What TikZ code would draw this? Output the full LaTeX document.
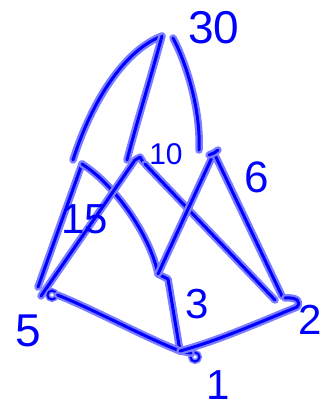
\documentclass[tikz,border=0pt]{standalone}
\usepackage{fontspec}
\setmainfont{Liberation Sans}
\definecolor{ink}{RGB}{0,0,255}
\definecolor{halo}{RGB}{125,125,255}
\begin{document}
\begin{tikzpicture}[x=1pt,y=-1pt,
  pen/.style={draw=ink, line width=3pt, line cap=round, line join=round,
    preaction={draw=halo, line width=7.5pt, line cap=round, line join=round}},
  vtx/.style={circle, draw=ink, line width=2pt, minimum size=9pt, inner sep=0pt,
    preaction={draw=halo, line width=5pt}},
  lbl/.style={text=ink, inner sep=0pt, font=\fontsize{42}{42}\selectfont}]
\useasboundingbox (0,0) rectangle (321,408);
% coordinates
\coordinate (t1) at (162,36);
\coordinate (t1b) at (73,160);
\coordinate (t2b) at (127,160);
\coordinate (t3) at (173,38);
\coordinate (t3b) at (199,150);
\coordinate (a) at (82,164);
\coordinate (a5) at (38,287);
\coordinate (b) at (158,274);
\coordinate (bh) at (168,279);
\coordinate (c) at (135,160);
\coordinate (ch) at (140,157);
\coordinate (c5) at (41,296);
\coordinate (d) at (145,164);
\coordinate (e) at (275,300);
\coordinate (f) at (214,153);
\coordinate (g) at (282,296);
\coordinate (j) at (180,351);
\coordinate (k) at (297,307);
\coordinate (kh) at (285,298);
% top strokes
\draw[pen] (t1) .. controls (125,50) and (92,100) .. (t1b);
\draw[pen] (t1) .. controls (150,80) and (136,125) .. (t2b);
\draw[pen] (t3) .. controls (186,62) and (201,110) .. (t3b);
% lower strokes
\draw[pen] (a) -- (a5);
\draw[pen] (a) .. controls (115,185) and (150,235) .. (b) -- (bh) -- (j);
\draw[pen] (c5) -- (c) -- (ch) -- ++(3,5);
\draw[pen] (d) -- (e);
\draw[pen] (f) -- (b);
\draw[pen] (f) -- (g);
\draw[pen] (209,155) -- (f) -- (218,150);
\node[vtx] (n5) at (52,295) {};
\node[vtx] (n1) at (195,357) {};
\draw[pen] (n5.east) .. controls (95,310) and (140,335) .. (j) -- (n1.north west);
\draw[pen] (j) .. controls (220,340) and (260,322) .. (k) .. controls (301,302) and (298,297) .. (kh);
% labels
\node[lbl, font=\fontsize{46}{46}\selectfont] (l30) at (214,28) {30};
\node[lbl, font=\fontsize{30}{30}\selectfont] (l10) at (166,154) {10};
\node[lbl] (l15) at (85,219) {15};
\node[lbl, font=\fontsize{44}{44}\selectfont] (l6) at (257,177) {6};
\node[lbl] (l3) at (197,304) {3};
\node[lbl, font=\fontsize{46}{46}\selectfont] (l5) at (28,331) {5};
\node[lbl] (l1) at (218,385) {1};
\node[lbl] (l2) at (310,320) {2};
\end{tikzpicture}
\end{document}
